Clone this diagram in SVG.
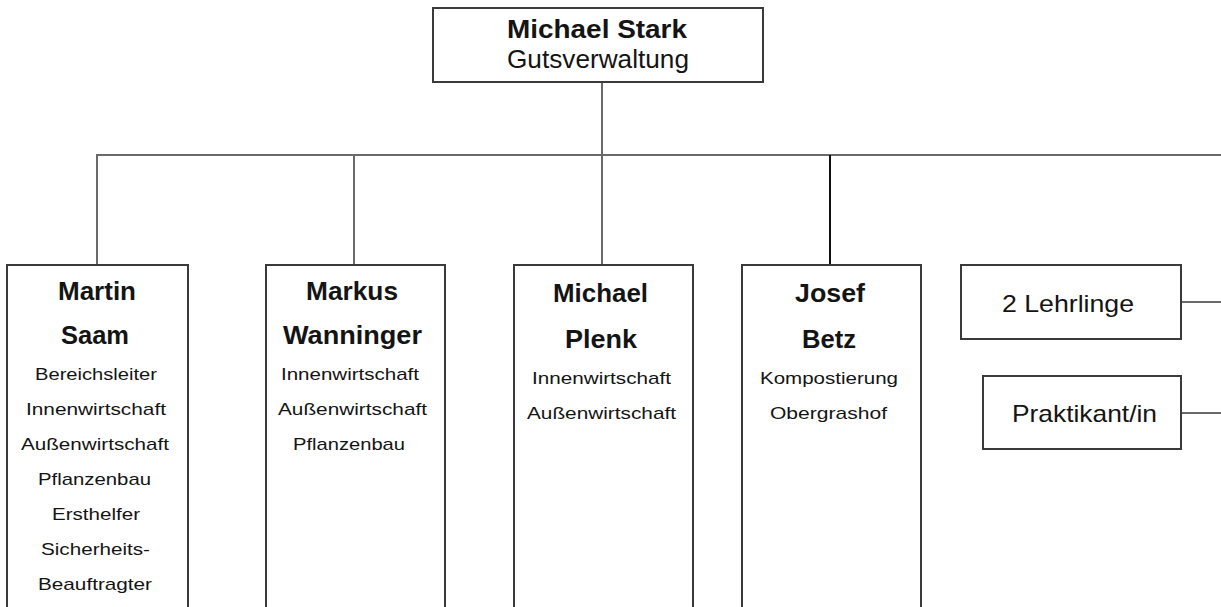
<svg xmlns="http://www.w3.org/2000/svg" width="1221" height="607" viewBox="0 0 1221 607">
<style>
text{font-family:"Liberation Sans",Arial,sans-serif;fill:#141414}
.box{fill:#fff;stroke:#3a3a3a;stroke-width:2}
.nm{font-size:25px;font-weight:bold}
.tp{font-size:26px}
.sm{font-size:17px}
.sd{font-size:24px}
.c{fill:none;stroke:#6a6a6a;stroke-width:2}
</style>
<rect width="1221" height="607" fill="#fff"/>
<g id="connectors">
<path class="c" d="M602 82V265M96 155H1221M97 155V265M354 155V265M1181 302H1221M1181 413H1221"/>
<path fill="none" stroke="#111" stroke-width="2" d="M830 155V265"/>
</g>
<g id="stark">
<rect class="box" x="433" y="8" width="330" height="74"/>
<text class="nm" x="507" y="38" textLength="180" lengthAdjust="spacingAndGlyphs" style="font-size:26px">Michael Stark</text>
<text class="tp" x="507" y="68" textLength="182" lengthAdjust="spacingAndGlyphs">Gutsverwaltung</text>
</g>
<g id="saam">
<rect class="box" x="7" y="265" width="181" height="360"/>
<text class="nm" x="58" y="300" textLength="78" lengthAdjust="spacingAndGlyphs">Martin</text>
<text class="nm" x="61" y="344" textLength="68" lengthAdjust="spacingAndGlyphs">Saam</text>
<text class="sm" x="35" y="380" textLength="122" lengthAdjust="spacingAndGlyphs">Bereichsleiter</text>
<text class="sm" x="26" y="415" textLength="140" lengthAdjust="spacingAndGlyphs">Innenwirtschaft</text>
<text class="sm" x="21" y="450" textLength="148" lengthAdjust="spacingAndGlyphs">Außenwirtschaft</text>
<text class="sm" x="38" y="485" textLength="113" lengthAdjust="spacingAndGlyphs">Pflanzenbau</text>
<text class="sm" x="52" y="520" textLength="88" lengthAdjust="spacingAndGlyphs">Ersthelfer</text>
<text class="sm" x="41" y="555" textLength="109" lengthAdjust="spacingAndGlyphs">Sicherheits-</text>
<text class="sm" x="38" y="590" textLength="114" lengthAdjust="spacingAndGlyphs">Beauftragter</text>
</g>
<g id="wanninger">
<rect class="box" x="266" y="265" width="179" height="360"/>
<text class="nm" x="306" y="300" textLength="92" lengthAdjust="spacingAndGlyphs">Markus</text>
<text class="nm" x="283" y="344" textLength="139" lengthAdjust="spacingAndGlyphs">Wanninger</text>
<text class="sm" x="281" y="380" textLength="138" lengthAdjust="spacingAndGlyphs">Innenwirtschaft</text>
<text class="sm" x="278" y="415" textLength="149" lengthAdjust="spacingAndGlyphs">Außenwirtschaft</text>
<text class="sm" x="293" y="450" textLength="112" lengthAdjust="spacingAndGlyphs">Pflanzenbau</text>
</g>
<g id="plenk">
<rect class="box" x="514" y="265" width="179" height="360"/>
<text class="nm" x="553" y="302" textLength="95" lengthAdjust="spacingAndGlyphs">Michael</text>
<text class="nm" x="565" y="348" textLength="72" lengthAdjust="spacingAndGlyphs">Plenk</text>
<text class="sm" x="532" y="384" textLength="139" lengthAdjust="spacingAndGlyphs">Innenwirtschaft</text>
<text class="sm" x="527" y="419" textLength="149" lengthAdjust="spacingAndGlyphs">Außenwirtschaft</text>
</g>
<g id="betz">
<rect class="box" x="742" y="265" width="179" height="360"/>
<text class="nm" x="795" y="302" textLength="70" lengthAdjust="spacingAndGlyphs">Josef</text>
<text class="nm" x="802" y="348" textLength="54" lengthAdjust="spacingAndGlyphs">Betz</text>
<text class="sm" x="760" y="384" textLength="138" lengthAdjust="spacingAndGlyphs">Kompostierung</text>
<text class="sm" x="770" y="419" textLength="117" lengthAdjust="spacingAndGlyphs">Obergrashof</text>
</g>
<g id="lehrlinge">
<rect class="box" x="961" y="265" width="220" height="74"/>
<text class="sd" x="1002" y="312" textLength="132" lengthAdjust="spacingAndGlyphs">2 Lehrlinge</text>
</g>
<g id="praktikant">
<rect class="box" x="983" y="376" width="198" height="73"/>
<text class="sd" x="1012" y="422" textLength="145" lengthAdjust="spacingAndGlyphs">Praktikant/in</text>
</g>
</svg>
